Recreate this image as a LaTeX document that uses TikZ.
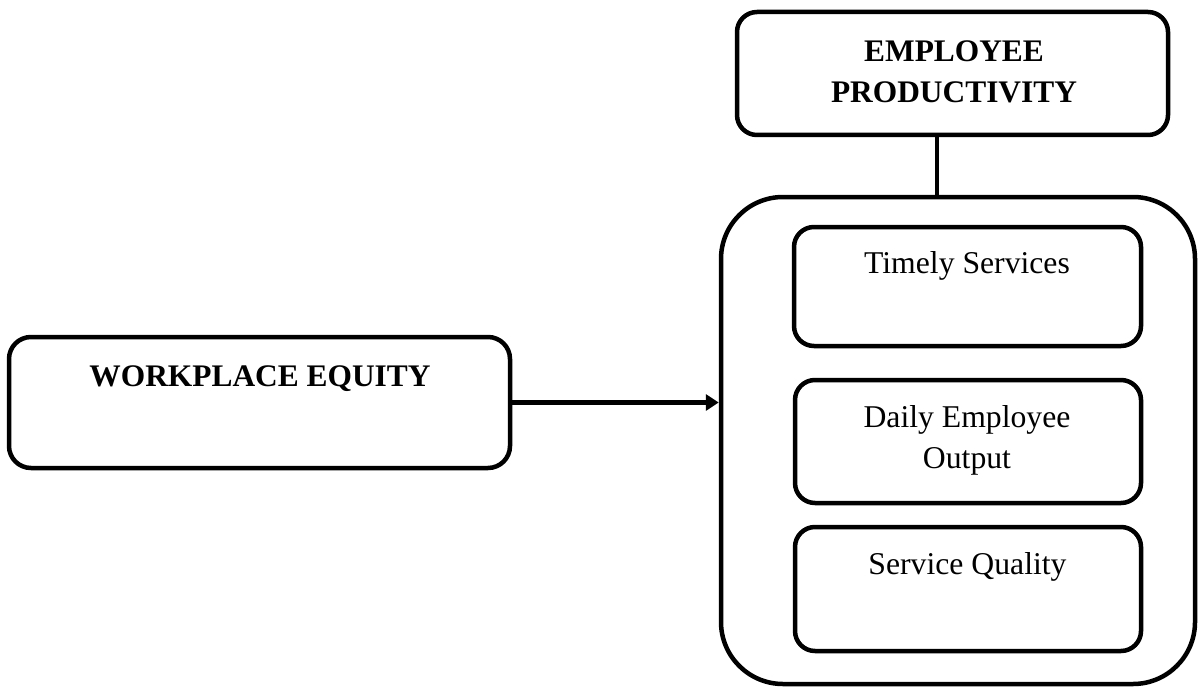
\documentclass[tikz,border=0pt]{standalone}
\usepackage{fontspec}
\setmainfont{Liberation Serif}
\usetikzlibrary{arrows.meta}
\begin{document}
\begin{tikzpicture}[x=1pt,y=-1pt,
  box/.style={draw, line width=4.5pt, rounded corners=20pt, inner sep=0pt, minimum width=#1},
  box/.default=100pt,
  lbl/.style={font=\fontsize{31.7}{41}\selectfont, align=center, inner sep=0pt},
  blbl/.style={font=\fontsize{31.4}{41}\selectfont\bfseries, align=center, inner sep=0pt},
  link/.style={line width=4.5pt},
  arrow/.style={line width=4.5pt, -{Triangle[length=13pt,width=16pt]}}]
\useasboundingbox (0,0) rectangle (1198,687);
% boxes
\node[box=431pt, minimum height=123pt] (ep) at (952.5,73.5) {};
\node[box=474pt, minimum height=487pt, rounded corners=62pt] (big) at (958,440.5) {};
\node[box=347pt, minimum height=119pt] (ts) at (967.5,286.5) {};
\node[box=346pt, minimum height=123pt] (deo) at (968,441.5) {};
\node[box=346pt, minimum height=124pt] (sq) at (968,589) {};
\node[box=501pt, minimum height=131pt, rounded corners=22pt] (we) at (259.5,402.5) {};
% texts
\node[blbl, anchor=base] (eptxt) at (954,103) {EMPLOYEE\\PRODUCTIVITY};
\node[lbl, anchor=base] (tstxt) at (967,273) {Timely Services};
\node[lbl, anchor=base] (deotxt) at (967,468) {Daily Employee\\Output};
\node[lbl, anchor=base] (sqtxt) at (967.5,574) {Service Quality};
\node[blbl, anchor=base] (wetxt) at (260,386) {WORKPLACE EQUITY};
% connectors
\draw[link] (937,0 |- ep.south) -- (937,0 |- big.north);
\draw[arrow] (we.east) -- (we.east -| big.west);
\end{tikzpicture}
\end{document}
